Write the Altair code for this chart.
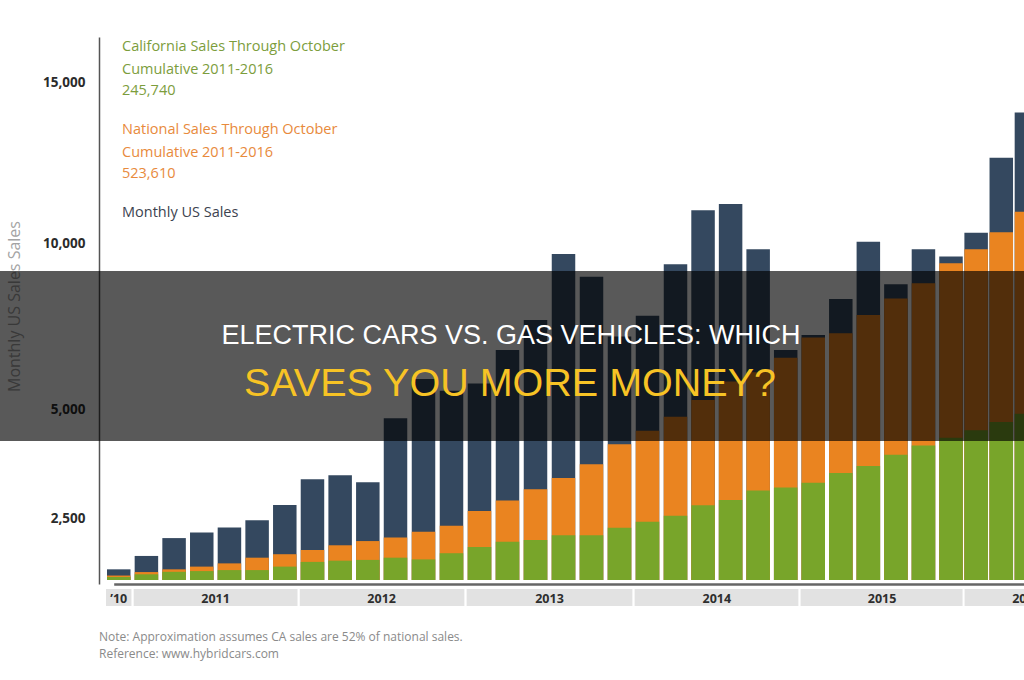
import altair as alt
import pandas as pd

# Bimonthly periods: Dec 2010, then six per year 2011-2015, then 2016 (cropped)
period = list(range(34))

# Monthly US plug-in sales (navy)
us_sales = [430, 970, 1690, 1920, 2120, 2410, 2800, 3390, 3480, 3320,
            4790, 5900, 5550, 5770, 6780, 7680, 9670, 8980, 7180, 7810,
            9360, 11020, 11210, 9810, 6780, 7230, 8310, 10040, 8760, 9810,
            9590, 10320, 12650, 14050]
# National sales (orange)
national = [180, 320, 430, 540, 670, 900, 1040, 1210, 1400, 1570,
            1710, 1950, 2190, 2660, 2900, 3160, 3420, 3730, 4190, 4500,
            4820, 5270, 5830, 6110, 6540, 7150, 7280, 7830, 8330, 8790,
            9390, 9810, 10330, 10970]
# California sales (green)
california = [120, 230, 330, 360, 400, 400, 540, 730, 780, 810,
              900, 830, 1080, 1330, 1540, 1610, 1800, 1800, 2110, 2350,
              2550, 2790, 2910, 3130, 3200, 3310, 3530, 3690, 3950, 4160,
              4340, 4510, 4700, 4890]

year_labels = ["\u201910", "2011", "2012", "2013", "2014", "2015", "2016"]
year_first = [0, 1, 7, 13, 19, 25, 31]
year_last = [0, 6, 12, 18, 24, 30, 35]

y_ticks = [2500, 5000, 10000, 15000]

LEFT = 99
W, H = 1024 - LEFT, 584

bars = pd.DataFrame({"period": period, "us": us_sales,
                     "national": national, "california": california})
years = pd.DataFrame({
    "year": year_labels,
    "start": [a - 0.46 for a in year_first],
    "end": [b + 0.46 for b in year_last],
    "mid": [(a + b) / 2 for a, b in zip(year_first, year_last)],
})

# The printed axis is not evenly spaced, so both scales are piecewise linear
yscale = alt.Scale(domain=[-130, 0, 2500, 5000, 10000, 15000, 16400],
                   range=[584, 580, 518, 409, 243, 82, 37],
                   nice=False, zero=False)
xscale = alt.Scale(domain=[0, 10, 20, 30, 33],
                   range=[14.7, 296.5, 576.5, 852, 932],
                   nice=False, zero=False)

NAVY, ORANGE, GREEN = "#34485f", "#ea8420", "#78a52a"
FONT = "Open Sans"

# One axis definition shared by every layer so the merged axes stay intact
x_axis = alt.Axis(labels=False, ticks=False, grid=False, title="",
                  domainColor="#666666", domainWidth=2.5)
y_axis = alt.Axis(values=y_ticks, labelExpr="format(datum.value, ',')",
                  ticks=False, grid=False,
                  labelFont=FONT, labelFontWeight="bold",
                  labelFontSize=13.5, labelColor="#2b2b2b",
                  labelPadding=14, domainColor="#555555", domainWidth=1.5,
                  title="Monthly US Sales Sales", titleFont=FONT,
                  titleFontWeight="normal", titleFontSize=16,
                  titleColor="#a3a3a3", titleAngle=270,
                  titleX=-85, titleY=306, titleAlign="center",
                  titleBaseline="middle")

base = alt.Chart(bars)


def bar_layer(field, color):
    return base.mark_bar(color=color, size=23.5, clip=True).encode(
        x=alt.X("period:Q", scale=xscale, axis=x_axis),
        y=alt.Y(f"{field}:Q", scale=yscale, axis=y_axis),
        y2=alt.datum(0),
    )


navy_bars = bar_layer("us", NAVY)
orange_bars = bar_layer("national", ORANGE)
green_bars = bar_layer("california", GREEN)

year_bands = alt.Chart(years).mark_rect(color="#e2e2e2").encode(
    x=alt.X("start:Q", scale=xscale, axis=x_axis),
    x2="end:Q",
    y=alt.value(589),
    y2=alt.value(606),
)

year_text = alt.Chart(years).mark_text(
    font=FONT, fontWeight="bold", fontSize=12.5, color="#2e2e2e",
    baseline="alphabetic", align="center",
).encode(
    x=alt.X("mid:Q", scale=xscale, axis=x_axis),
    y=alt.value(603),
    text="year:N",
)


def label(text, x, y, size, color, weight="normal", font=FONT, align="left"):
    return alt.Chart(pd.DataFrame({"t": [text]})).mark_text(
        font=font, fontSize=size, fontWeight=weight, color=color,
        align=align, baseline="alphabetic",
    ).encode(text="t:N", x=alt.value(x - LEFT), y=alt.value(y))


LEG_GREEN, LEG_ORANGE, LEG_DARK = "#7c9d3c", "#e88a3c", "#3c4350"
legend = [
    label("California Sales Through October", 122, 51, 14.5, LEG_GREEN),
    label("Cumulative 2011-2016", 122, 74, 14.5, LEG_GREEN),
    label("245,740", 122, 95, 14.5, LEG_GREEN),
    label("National Sales Through October", 122, 134, 14.5, LEG_ORANGE),
    label("Cumulative 2011-2016", 122, 157, 14.5, LEG_ORANGE),
    label("523,610", 122, 178, 14.5, LEG_ORANGE),
    label("Monthly US Sales", 122, 217, 14.5, LEG_DARK),
]

notes = [
    label("Note: Approximation assumes CA sales are 52% of national sales.",
          99, 641, 12, "#8a8a8a"),
    label("Reference: www.hybridcars.com", 99, 658, 12, "#8a8a8a"),
]

banner = alt.Chart(pd.DataFrame({"a": [0]})).mark_rect(
    color="black", opacity=0.65
).encode(x=alt.value(-LEFT), x2=alt.value(W), y=alt.value(271),
         y2=alt.value(441))

headline = [
    label("ELECTRIC CARS VS. GAS VEHICLES: WHICH", 511, 344, 27, "#ffffff",
          font="Liberation Sans", align="center"),
    label("SAVES YOU MORE MONEY?", 510, 396, 39.5, "#f7c325",
          font="Liberation Sans", align="center"),
]

chart = alt.layer(
    navy_bars, orange_bars, green_bars, year_bands, year_text,
    *legend, *notes, banner, *headline,
).properties(
    width=W, height=H,
    autosize=alt.AutoSizeParams(type="none"),
    padding={"left": LEFT, "top": 0, "right": 0, "bottom": 680 - H},
    background="white",
).configure_view(stroke=None)

chart.save("out.html", embed_options={"renderer": "svg", "actions": False})
